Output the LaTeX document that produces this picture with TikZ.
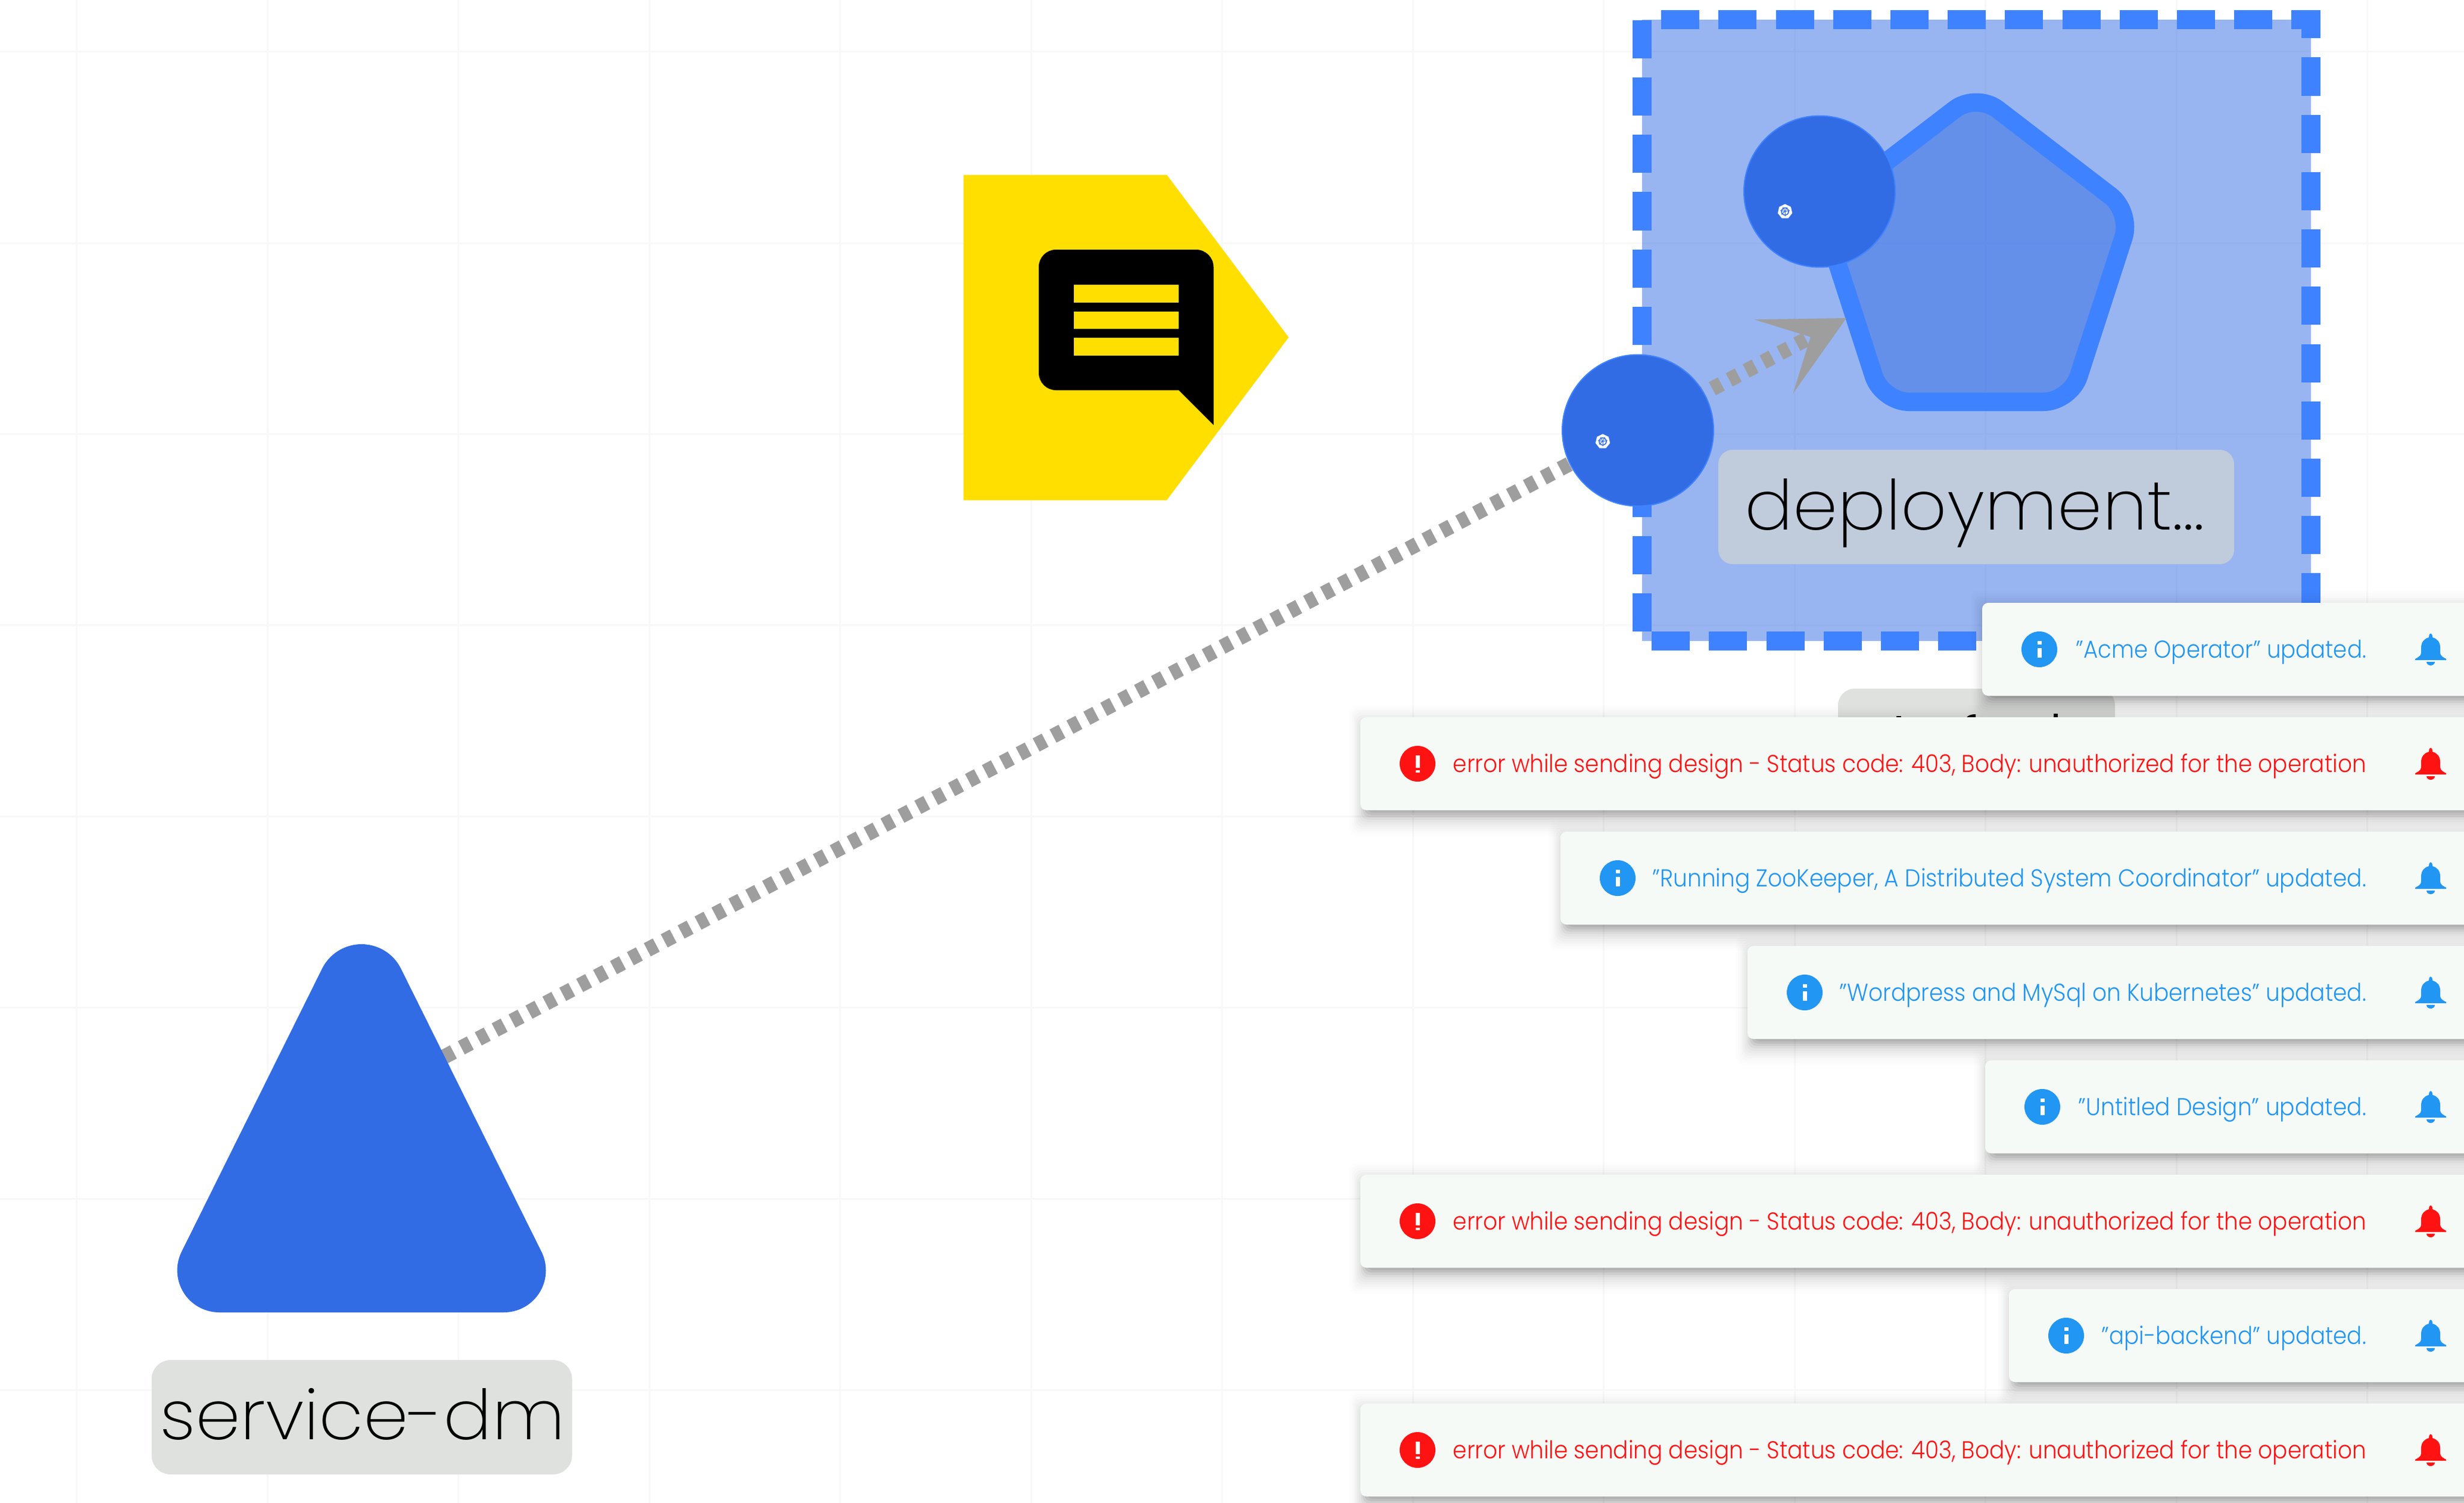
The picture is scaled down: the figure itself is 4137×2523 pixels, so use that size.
\documentclass[tikz,border=0pt]{standalone}
\usepackage{fontspec}
\usepackage{graphicx}
\usetikzlibrary{arrows.meta,shapes.geometric}
\setmainfont{Poppins}[UprightFont={* Light}]
\newfontfamily\thinfont{Poppins}[UprightFont={* ExtraLight}]
\definecolor{kblue}{HTML}{326CE5}
\definecolor{kstroke}{HTML}{3F82FF}
\definecolor{edgegray}{HTML}{9E9E9E}
\definecolor{gridc}{HTML}{F8F8F8}
\definecolor{kyellow}{HTML}{FFDF00}
\definecolor{toastbg}{HTML}{F6FAF7}
\definecolor{infoc}{HTML}{2196F3}
\definecolor{errc}{HTML}{FF1212}
\definecolor{labgray}{HTML}{DFE1DF}
\definecolor{labblue}{HTML}{C0CBDC}
\tikzset{
  x=1pt,y=-1pt,
  gridline/.style={gridc,line width=3pt},
  dashside/.style={kstroke,line width=32pt,dash pattern=on 64.1pt off 32.1pt},
  kcircle/.style={circle,fill=kblue,draw=kstroke,line width=2pt,minimum size=254pt,inner sep=0pt},
  toastbox/.style={fill=toastbg,rounded corners=10pt},
  toasttext/.style={anchor=base east,inner sep=0pt,font=\fontsize{41}{41}\selectfont},
  biglabel/.style={inner sep=0pt,anchor=base,font=\thinfont\fontsize{116}{116}\selectfont,text=black},
}
\newsavebox{\fitbox}
% fit a text horizontally to a given width
\newcommand{\fitw}[2]{\sbox{\fitbox}{#2}\pgfmathsetmacro{\fitr}{(#1)/\wd\fitbox}\scalebox{\fitr}[1]{\usebox{\fitbox}}}
\newcommand{\bellicon}[3]{% cx, top, colour
  \begin{scope}[shift={(#1,#2)}]
  \fill[#3] (-3,7) .. controls (-3,-2) and (3,-2) .. (3,7)
     .. controls (11,9) and (16,15) .. (16,24) -- (16,33)
     .. controls (16,38) and (22,41) .. (26,43) -- (26,45) -- (-26,45) -- (-26,43)
     .. controls (-22,41) and (-16,38) .. (-16,33) -- (-16,24)
     .. controls (-16,15) and (-11,9) .. (-3,7) -- cycle;
  \fill[#3] (-7,48) -- (7,48) arc[start angle=0,end angle=180,x radius=7,y radius=6] -- cycle;
  \end{scope}
}
\newcommand{\toastshadow}[2]{% left, top
  \foreach \E/\A in {4/.08,8/.06,12/.05,16/.035,20/.025,24/.02,28/.018,32/.014,36/.012,40/.008,44/.006}{
    \fill[black,opacity=\A,rounded corners=12pt] (#1+12-\E*0.7,#2+24-\E) rectangle (4200,#2+156+\E);
  }
}
\newcommand{\toast}[6]{% name, left, top, kind (i/e), textleft, text
  \fill[toastbox] (#2,#3) rectangle (4200,#3+156);
  \coordinate (#1) at (#2,#3);
  \ifx#4i
    \fill[infoc] (#2+96,#3+78) circle[radius=30];
    \fill[white] (#2+93,#3+76) rectangle (#2+99.5,#3+92);
    \fill[white] (#2+93,#3+64) rectangle (#2+99.5,#3+69.5);
    \bellicon{4081}{#3+51}{infoc}
    \node[toasttext,text=infoc] (#1text) at (3973,#3+92) {\fitw{3973-#5}{#6}};
  \else
    \fill[errc] (#2+96,#3+78) circle[radius=30];
    \fill[white] (#2+92.5,#3+64) rectangle (#2+99.5,#3+85);
    \fill[white] (#2+92.5,#3+89) rectangle (#2+99.5,#3+93);
    \bellicon{4081}{#3+51}{errc}
    \node[toasttext,text=errc] (#1text) at (3973,#3+92) {\fitw{3973-#5}{#6}};
  \fi
}
\newcommand{\kicon}[3]{% name, x, y
  \node[regular polygon,regular polygon sides=7,fill=white,minimum size=25pt,inner sep=0pt] (#1) at (#2,#3) {};
  \draw[kblue,line width=1.6pt] (#1.center) circle[radius=6];
  \foreach \a in {0,51.4,...,308}{\draw[kblue,line width=1pt] (#1.center) -- ++(\a+90:8);}
}
\begin{document}
\begin{tikzpicture}
\useasboundingbox (0,0) rectangle (4137,2523);
\begin{scope}
\clip (0,0) rectangle (4137,2523);
\fill[white] (0,0) rectangle (4137,2523);
% grid
\foreach \X in {128,449,769,1090,1410,1731,2051,2372,2692,3013,3333,3654,3974}{\draw[gridline] (\X,0) -- (\X,2523);}
\foreach \Y in {87,408,728,1049,1370,1691,2012,2333}{\draw[gridline] (0,\Y) -- (4137,\Y);}

% group box
\fill[kblue,opacity=.5] (2757,33) rectangle (3880,1076);
\coordinate (gTL) at (2757,33); \coordinate (gTR) at (3880,33);
\coordinate (gBL) at (2757,1076); \coordinate (gBR) at (3880,1076);
\draw[dashside,dash phase=64.1pt,line join=miter] (gTL) -- (gTR) -- (gBR);
\draw[dashside,dash phase=80.1pt] (gBL) -- (gBR);
\draw[dashside,dash phase=80.1pt] (gBL) -- (gTL);

% pentagon
\fill[kblue,opacity=.5,rounded corners=45pt]
  (3318,674.5) -- (3476,674.5) -- (3579,356) -- (3318,156) -- (3057,356) -- (3160,674.5) -- cycle;
\draw[kstroke,line width=31pt,rounded corners=45pt,line join=round]
  (3318,674.5) -- (3476,674.5) -- (3579,356) -- (3318,156) -- (3057,356) -- (3160,674.5) -- cycle;

% deployment label
\node[fill=labblue,rounded corners=24pt,minimum width=866pt,minimum height=192pt,inner sep=0pt] (deplab) at (3318,851) {};
\node[biglabel] (deptext) at (3315,889) {\fitw{772}{deployment...}};

% partly hidden label
\fill[labgray,rounded corners=28pt] (3086,1156) rectangle (3551,1300);
\fill[black] (3184,1202) rectangle (3192,1206);
\fill[black] (3301,1206) .. controls (3303,1201) and (3309,1199) .. (3317,1199) -- (3317,1206) -- cycle;
\fill[black] (3448,1198) rectangle (3455,1206);

% service triangle and connector
\coordinate (edgestart) at (740,1777);
\coordinate (edgetip) at (3100,534);
\draw[edgegray,line width=25pt,dash pattern=on 17pt off 15.08pt,dash phase=25.08pt,
  -{Stealth[length=138pt,width=140pt,inset=70pt,line width=0pt,fill=edgegray]}] (edgestart) -- (edgetip);
\fill[kblue] (368,2203) -- (846,2203) arc[start angle=90,end angle=-26.5,radius=70.5]
  -- (673.2,1626) arc[start angle=-26.5,end angle=-153.5,radius=74]
  -- (305,2101) arc[start angle=206.5,end angle=90,radius=70.5] -- cycle;
\node[fill=labgray,rounded corners=32pt,minimum width=706pt,minimum height=192pt,inner sep=0pt] (svclab) at (607.5,2379) {};
\node[biglabel] (svctext) at (608.5,2416.5) {\fitw{681}{service-dm}};

% pods
\node[kcircle] (pod1) at (3055,321.5) {};
\kicon{pod1i}{2997}{355}
\node[kcircle] (pod2) at (2750,722.5) {};
\kicon{pod2i}{2691}{741}

% comment
\fill[kyellow] (1617.6,293.5) -- (1959,293.5) -- (2163.6,566.3) -- (1959,839.5) -- (1617.6,839.5) -- cycle;
\fill[black] (1773,419) -- (2008,419) arc[start angle=-90,end angle=0,radius=29.5] -- (2037.5,713.5) -- (1979,655) -- (1773,655)
   arc[start angle=90,end angle=180,radius=29] -- (1744,448) arc[start angle=180,end angle=270,radius=29] -- cycle;
\fill[kyellow] (1802.5,478) rectangle (1979,508);
\fill[kyellow] (1802.5,522.5) rectangle (1979,552);
\fill[kyellow] (1802.5,567) rectangle (1979,596.5);

% shadows
\toastshadow{3328}{1012}
\toastshadow{2284}{1204}
\toastshadow{2620}{1396}
\toastshadow{2934}{1588}
\toastshadow{3333}{1780}
\toastshadow{2284}{1972}
\toastshadow{3373}{2164}
\toastshadow{2284}{2356}

% toasts
\toast{t1}{3328}{1012}{i}{3486}{"Acme Operator" updated.}
\toast{t2}{2284}{1204}{e}{2440}{error while sending design - Status code: 403, Body: unauthorized for the operation}
\toast{t3}{2620}{1396}{i}{2775}{"Running ZooKeeper, A Distributed System Coordinator" updated.}
\toast{t4}{2934}{1588}{i}{3089}{"Wordpress and MySql on Kubernetes" updated.}
\toast{t5}{3333}{1780}{i}{3490}{"Untitled Design" updated.}
\toast{t6}{2284}{1972}{e}{2440}{error while sending design - Status code: 403, Body: unauthorized for the operation}
\toast{t7}{3373}{2164}{i}{3529}{"api-backend" updated.}
\toast{t8}{2284}{2356}{e}{2440}{error while sending design - Status code: 403, Body: unauthorized for the operation}
\end{scope}
\end{tikzpicture}
\end{document}
